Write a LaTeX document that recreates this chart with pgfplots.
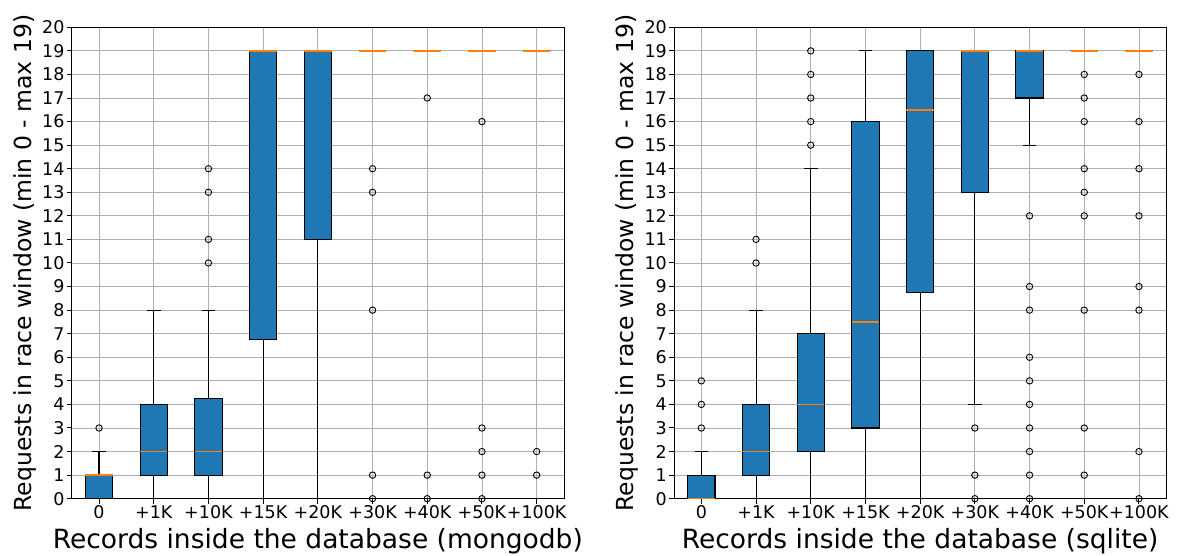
\documentclass[border=0pt]{standalone}
\usepackage{fontspec}
\setmainfont{DejaVu Sans}
\usepackage{pgfplots}
\pgfplotsset{compat=1.18}
\usepgfplotslibrary{statistics}
\definecolor{mplblue}{HTML}{1F77B4}
\definecolor{mplorange}{HTML}{FF7F0E}
\definecolor{gridgray}{HTML}{B0B0B0}
\pgfplotsset{
  myaxis/.style={
    scale only axis, width=492.3pt, height=471.4pt,
    xmin=0.5, xmax=9.5, ymin=0, ymax=20,
    xtick={1,...,9},
    xticklabels={0,+1K,+10K,+15K,+20K,+30K,+40K,+50K,+100K},
    ytick={0,...,20},
    grid=major, grid style={draw=gridgray, line width=0.8pt},
    axis line style={line width=1pt},
    tick align=outside, tick pos=left,
    major tick length=5pt, tick style={black, line width=1pt},
    /pgf/number format/assume math mode=true,
    tick label style={font=\fontsize{17.5}{20}\selectfont},
    yticklabel style={inner sep=2pt},
    xticklabel style={inner sep=2pt},
    xlabel style={font=\fontsize{26.5}{30}\selectfont, at={(axis description cs:0.5,-0.1046)}, anchor=base},
    ylabel style={font=\fontsize{23.5}{28}\selectfont, at={(axis description cs:-0.0813,0.5)}, anchor=base},
    boxplot/draw direction=y,
    boxplot/box extend=0.5, boxplot/whisker extend=0.25,
    boxplot/every median/.style={draw=mplorange, line width=1.8pt},
    bx/.style={fill=mplblue, draw=black, line width=1.1pt},
    fl/.style={only marks, mark=o, mark size=3.2pt, mark options={draw=black, line width=0.9pt, fill=none}},
  }
}
\begin{document}
\begin{tikzpicture}
\path[use as bounding box] (0,0) rectangle (1178pt,556pt);
% ---------- mongodb ----------
\begin{axis}[myaxis, at={(71.7pt,57.3pt)}, anchor=south west,
  xlabel={Records inside the database (mongodb)},
  ylabel={Requests in race window (min 0 - max 19)}]
\addplot[bx, boxplot prepared={draw position=1, lower whisker=0, lower quartile=0, median=1, upper quartile=1, upper whisker=2}] coordinates {};
\addplot[bx, boxplot prepared={draw position=2, lower whisker=0, lower quartile=1, median=2, upper quartile=4, upper whisker=8}] coordinates {};
\addplot[bx, boxplot prepared={draw position=3, lower whisker=0, lower quartile=1, median=2, upper quartile=4.25, upper whisker=8}] coordinates {};
\addplot[bx, boxplot prepared={draw position=4, lower whisker=0, lower quartile=6.75, median=19, upper quartile=19, upper whisker=19}] coordinates {};
\addplot[bx, boxplot prepared={draw position=5, lower whisker=0, lower quartile=11, median=19, upper quartile=19, upper whisker=19}] coordinates {};
\addplot[bx, boxplot prepared={draw position=6, lower whisker=19, lower quartile=19, median=19, upper quartile=19, upper whisker=19}] coordinates {};
\addplot[bx, boxplot prepared={draw position=7, lower whisker=19, lower quartile=19, median=19, upper quartile=19, upper whisker=19}] coordinates {};
\addplot[bx, boxplot prepared={draw position=8, lower whisker=19, lower quartile=19, median=19, upper quartile=19, upper whisker=19}] coordinates {};
\addplot[bx, boxplot prepared={draw position=9, lower whisker=19, lower quartile=19, median=19, upper quartile=19, upper whisker=19}] coordinates {};
\addplot[fl] coordinates {
 (1,3)
 (3,10) (3,11) (3,13) (3,14)
 (6,0) (6,1) (6,8) (6,13) (6,14)
 (7,0) (7,1) (7,17)
 (8,0) (8,1) (8,2) (8,3) (8,16)
 (9,1) (9,2)
};
\end{axis}
% ---------- sqlite ----------
\begin{axis}[myaxis, at={(674pt,57.3pt)}, anchor=south west,
  xlabel={Records inside the database (sqlite)},
  ylabel={Requests in race window (min 0 - max 19)}]
\addplot[bx, boxplot prepared={draw position=1, lower whisker=0, lower quartile=0, median=0, upper quartile=1, upper whisker=2}] coordinates {};
\addplot[bx, boxplot prepared={draw position=2, lower whisker=0, lower quartile=1, median=2, upper quartile=4, upper whisker=8}] coordinates {};
\addplot[bx, boxplot prepared={draw position=3, lower whisker=0, lower quartile=2, median=4, upper quartile=7, upper whisker=14}] coordinates {};
\addplot[bx, boxplot prepared={draw position=4, lower whisker=0, lower quartile=3, median=7.5, upper quartile=16, upper whisker=19}] coordinates {};
\addplot[bx, boxplot prepared={draw position=5, lower whisker=0, lower quartile=8.75, median=16.5, upper quartile=19, upper whisker=19}] coordinates {};
\addplot[bx, boxplot prepared={draw position=6, lower whisker=4, lower quartile=13, median=19, upper quartile=19, upper whisker=19}] coordinates {};
\addplot[bx, boxplot prepared={draw position=7, lower whisker=15, lower quartile=17, median=19, upper quartile=19, upper whisker=19}] coordinates {};
\addplot[bx, boxplot prepared={draw position=8, lower whisker=19, lower quartile=19, median=19, upper quartile=19, upper whisker=19}] coordinates {};
\addplot[bx, boxplot prepared={draw position=9, lower whisker=19, lower quartile=19, median=19, upper quartile=19, upper whisker=19}] coordinates {};
\addplot[fl] coordinates {
 (1,3) (1,4) (1,5)
 (2,10) (2,11)
 (3,15) (3,16) (3,17) (3,18) (3,19)
 (6,0) (6,1) (6,3)
 (7,0) (7,1) (7,2) (7,3) (7,4) (7,5) (7,6) (7,8) (7,9) (7,12)
 (8,1) (8,3) (8,8) (8,12) (8,13) (8,14) (8,16) (8,17) (8,18)
 (9,0) (9,2) (9,8) (9,9) (9,12) (9,14) (9,16) (9,18)
};
\end{axis}
\end{tikzpicture}
\end{document}
